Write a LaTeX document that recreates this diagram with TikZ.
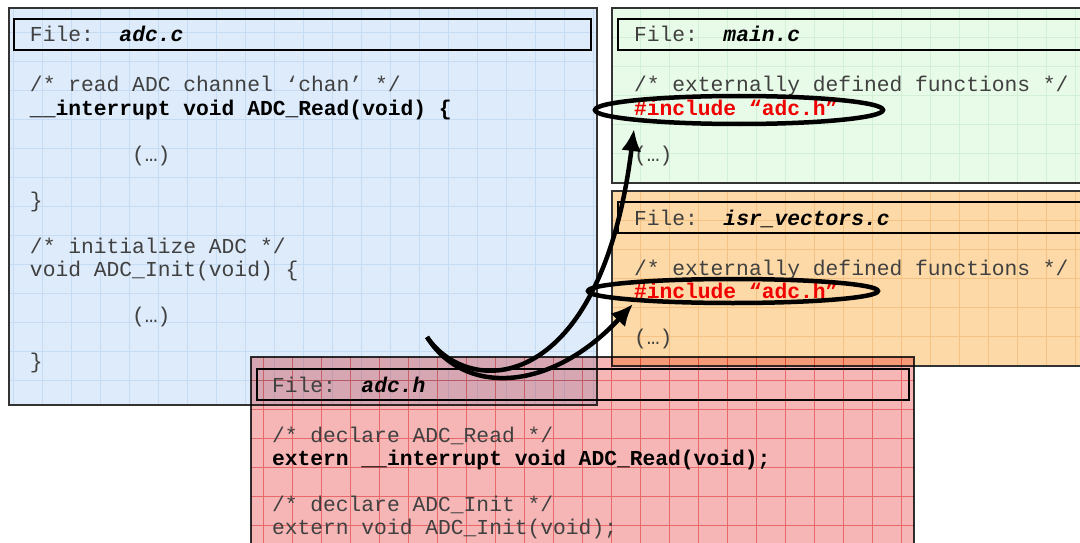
\documentclass[tikz,border=0pt]{standalone}
\usepackage{fontspec}
\setmonofont{Liberation Mono}
\usetikzlibrary{shapes,arrows.meta,positioning,calc}

\definecolor{adccfill}{HTML}{DDEBFA}
\definecolor{adccgrid}{HTML}{C6DCF5}
\definecolor{mainfill}{HTML}{E8FBE8}
\definecolor{maingrid}{HTML}{D2F0D5}
\definecolor{isrfill}{HTML}{FCD9A6}
\definecolor{isrgrid}{HTML}{F6C284}
\definecolor{adchfill}{HTML}{F7B6B6}
\definecolor{adchgrid}{HTML}{F09494}
\definecolor{codegray}{HTML}{404040}
\definecolor{incred}{HTML}{F00000}

\newcommand{\codefont}{\ttfamily\fontsize{21.3}{23}\selectfont}

\begin{document}
\begin{tikzpicture}[x=1pt,y=-1pt,
    filebox/.style={anchor=north west,inner sep=0pt,outer sep=0pt,draw=black!80,line width=1.5pt,
      fill=#1fill,path picture={\draw[#1grid,line width=.6pt,step=29pt]
        (path picture bounding box.south west) grid (path picture bounding box.north east);}},
    headbox/.style={anchor=north west,inner sep=0pt,outer sep=0pt,draw=black,line width=2.2pt,minimum height=31pt},
    code/.style={anchor=base west,inner sep=0pt,outer sep=0pt,text=codegray,font=\codefont},
    key/.style={code,text=black,font=\codefont\bfseries},
    incl/.style={code,text=incred,font=\codefont\bfseries},
    ring/.style={ellipse,draw=black,line width=4.5pt,inner sep=0pt},
    link/.style={-{Latex[length=22pt,width=20pt]},line width=4.5pt}]
  \clip (0,0) rectangle (1080,543);

  % adc.c
  \node[filebox=adcc,minimum width=588pt,minimum height=397pt] (adcc) at (9,8) {};
  \node[headbox,minimum width=577pt] (adcchead) at (14,19) {};
  \node[code] (adcctitle) at (30,42) {File:~~\textcolor{black}{\bfseries\itshape adc.c}};
  \node[code] (adcc1) at (30,92) {/* read ADC channel ‘chan’ */};
  \node[key] (adcc2) at ([yshift=-23pt]adcc1.base west) {\_\_interrupt void ADC\_Read(void) \{};
  \node[code] (adcc3) at ([xshift=102pt,yshift=-46pt]adcc2.base west) {(…)};
  \node[code] (adcc4) at ([yshift=-92pt]adcc2.base west) {\}};
  \node[code] (adcc5) at ([yshift=-46pt]adcc4.base west) {/* initialize ADC */};
  \node[code] (adcc6) at ([yshift=-23pt]adcc5.base west) {void ADC\_Init(void) \{};
  \node[code] (adcc7) at ([xshift=102pt,yshift=-46pt]adcc6.base west) {(…)};
  \node[code] (adcc8) at ([yshift=-92pt]adcc6.base west) {\}};

  % main.c
  \node[filebox=main,minimum width=520pt,minimum height=175pt] (mainc) at (612,8) {};
  \node[headbox,minimum width=500pt] (mainchead) at (618,19) {};
  \node[code] (maintitle) at (634,42) {File:~~\textcolor{black}{\bfseries\itshape main.c}};
  \node[code] (main1) at (634,92) {/* externally defined functions */};
  \node[incl] (main2) at ([yshift=-23pt]main1.base west) {\#include “adc.h”};
  \node[code] (main3) at ([yshift=-46pt]main2.base west) {(…)};

  % isr_vectors.c
  \node[filebox=isr,minimum width=520pt,minimum height=175pt] (isrc) at (612,191) {};
  \node[headbox,minimum width=500pt] (isrchead) at (618,202) {};
  \node[code] (isrtitle) at (634,225) {File:~~\textcolor{black}{\bfseries\itshape isr\_vectors.c}};
  \node[code] (isr1) at (634,275) {/* externally defined functions */};
  \node[incl] (isr2) at ([yshift=-23pt]isr1.base west) {\#include “adc.h”};
  \node[code] (isr3) at ([yshift=-46pt]isr2.base west) {(…)};

  % adc.h, laid over the others
  \begin{scope}[blend mode=multiply]
    \node[filebox=adch,minimum width=663pt,minimum height=220pt] (adch) at (251,357) {};
    \node[headbox,minimum width=652pt] (adchhead) at (257,369) {};
  \end{scope}
  \node[code] (adchtitle) at (272,392) {File:~~\textcolor{black}{\bfseries\itshape adc.h}};
  \node[code] (adch1) at (272,442) {/* declare ADC\_Read */};
  \node[key] (adch2) at ([yshift=-23pt]adch1.base west) {extern \_\_interrupt void ADC\_Read(void);};
  \node[code] (adch3) at ([yshift=-46pt]adch2.base west) {/* declare ADC\_Init */};
  \node[code] (adch4) at ([yshift=-23pt]adch3.base west) {extern void ADC\_Init(void);};

  % includes
  \node[ring,minimum width=288pt,minimum height=28pt] (incmain) at (739,110) {};
  \node[ring,minimum width=290pt,minimum height=24pt] (incisr) at (733,291) {};

  \coordinate (src) at (427,337);
  \coordinate (tipmain) at (634,129);
  \coordinate (tipisr) at (633,304);
  \draw[link] (src) .. controls +(43,63) and +(-33,265) .. (tipmain);
  \draw[link] (src) .. controls +(36,58) and +(-84,90) .. (tipisr);
\end{tikzpicture}
\end{document}
